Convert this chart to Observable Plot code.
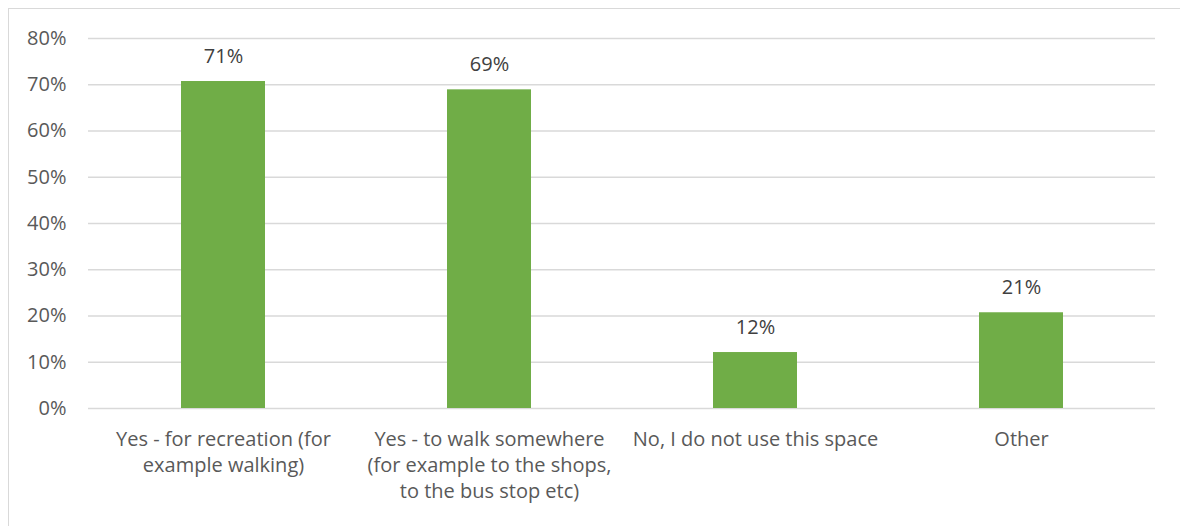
<!DOCTYPE html>
<html>
<head>
<meta charset="utf-8">
<script src="https://cdn.jsdelivr.net/npm/d3@7"></script>
<script src="https://cdn.jsdelivr.net/npm/@observablehq/plot@0.6"></script>
<style>
  html, body { margin: 0; padding: 0; background: #fff; }
  #frame {
    position: absolute; left: 8px; top: 8px; width: 1172px; height: 518px;
    border-left: 1px solid #d9d9d9; border-top: 1px solid #d9d9d9; overflow: hidden;
  }
</style>
</head>
<body>
<div id="frame"></div>
<script>
const categories = [
  "Yes - for recreation (for\nexample walking)",
  "Yes - to walk somewhere\n(for example to the shops,\nto the bus stop etc)",
  "No, I do not use this space",
  "Other"
];
const values = [0.707, 0.689, 0.121, 0.207];
const valueLabels = ["71%", "69%", "12%", "21%"];
const yTicks = [0, 0.1, 0.2, 0.3, 0.4, 0.5, 0.6, 0.7, 0.8];

const data = categories.map((c, i) => ({category: c, value: values[i], label: valueLabels[i]}));
const font = "'Open Sans', sans-serif";

const chart = Plot.plot({
  width: 1171,
  height: 517,
  marginLeft: 79,
  marginRight: 25,
  marginTop: 29,
  marginBottom: 118,
  style: {fontFamily: font, fontSize: "20px", color: "#595959", background: "#fff"},
  x: {domain: categories, paddingInner: 0.685, paddingOuter: 0.3425, label: null},
  y: {domain: [0, 0.8], label: null},
  marks: [
    Plot.ruleY(yTicks, {stroke: "#d9d9d9", strokeWidth: 1.3}),
    Plot.barY(data, {x: "category", y: "value", fill: "#70AD47"}),
    Plot.text(data, {x: "category", y: "value", text: "label", dy: -25, fill: "#404040", fontSize: 20}),
    Plot.axisY({ticks: yTicks, tickFormat: d => Math.round(d * 100) + "%", tickSize: 0, tickPadding: 22, fill: "#595959", fontSize: 20}),
    Plot.axisX({tickSize: 0, tickPadding: 19, fill: "#595959", fontSize: 20, lineHeight: 1.3})
  ]
});
document.getElementById("frame").appendChild(chart);
</script>
</body>
</html>
